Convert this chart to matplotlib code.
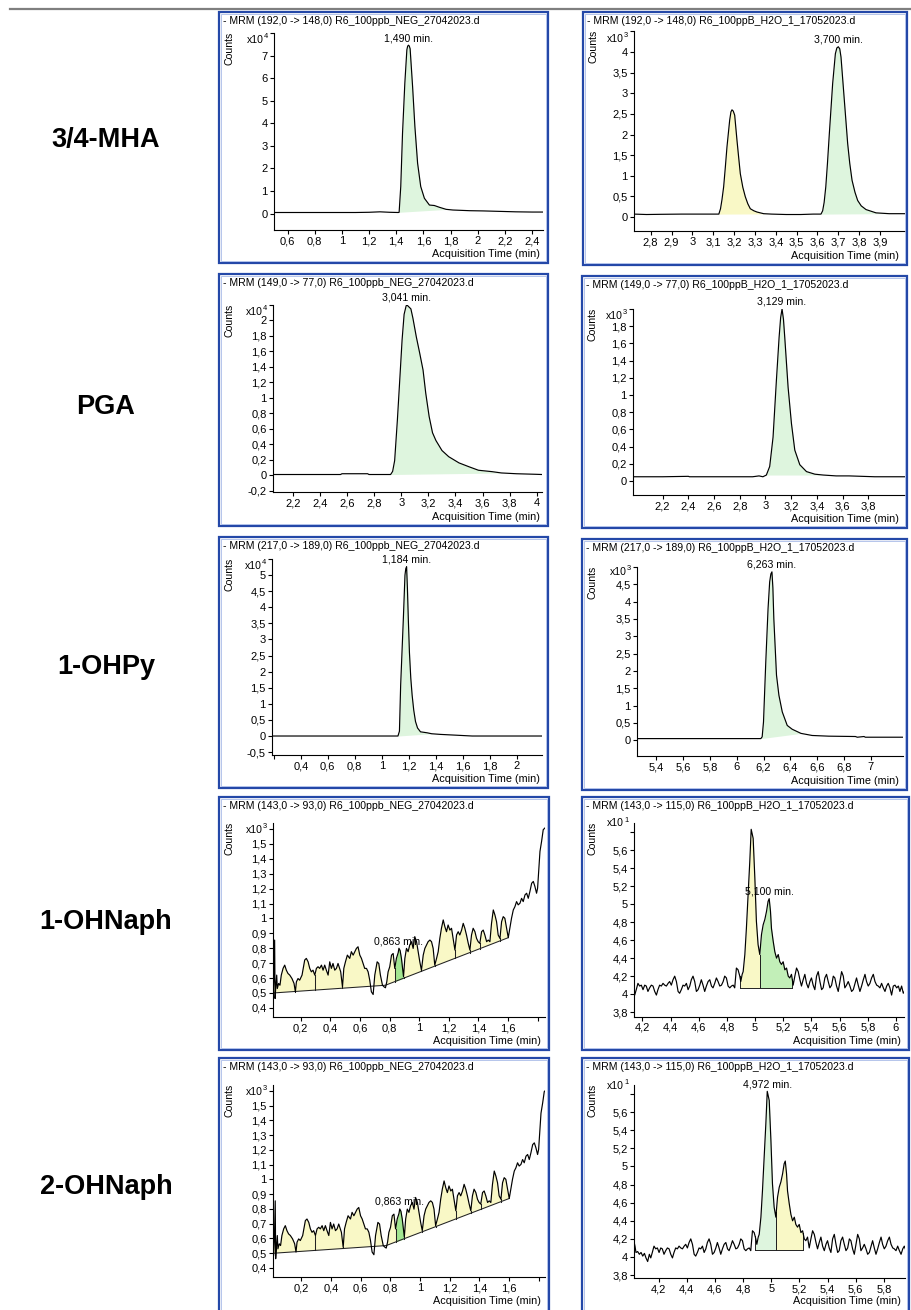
import numpy as np
import matplotlib
matplotlib.use("Agg")
import matplotlib.pyplot as plt
from matplotlib.patches import Rectangle
from matplotlib.lines import Line2D

plt.rcParams['font.family'] = ['Liberation Sans', 'DejaVu Sans']

W, H = 912, 1310

# ---------------------------------------------------------------- labels
compounds = ["3/4-MHA", "PGA", "1-OHPy", "1-OHNaph", "2-OHNaph"]

title_mha_neg = "- MRM (192,0 -> 148,0) R6_100ppb_NEG_27042023.d"
title_mha_h2o = "- MRM (192,0 -> 148,0) R6_100ppB_H2O_1_17052023.d"
title_pga_neg = "- MRM (149,0 -> 77,0) R6_100ppb_NEG_27042023.d"
title_pga_h2o = "- MRM (149,0 -> 77,0) R6_100ppB_H2O_1_17052023.d"
title_ohpy_neg = "- MRM (217,0 -> 189,0) R6_100ppb_NEG_27042023.d"
title_ohpy_h2o = "- MRM (217,0 -> 189,0) R6_100ppB_H2O_1_17052023.d"
title_naph_neg = "- MRM (143,0 -> 93,0) R6_100ppb_NEG_27042023.d"
title_naph_h2o = "- MRM (143,0 -> 115,0) R6_100ppB_H2O_1_17052023.d"

# ---------------------------------------------------------------- traces
# 3/4-MHA, NEG run (counts x10^4)
mha_neg_t = [0.50, 0.70, 0.90, 1.10, 1.20, 1.28, 1.35, 1.415, 1.421, 1.433, 1.446,
             1.463, 1.478, 1.484, 1.490, 1.496, 1.502, 1.52, 1.537, 1.557, 1.58,
             1.607, 1.644, 1.68, 1.718, 1.767, 1.817, 1.94, 2.04, 2.16, 2.28, 2.40,
             2.48]
mha_neg_c = [0.05, 0.05, 0.05, 0.05, 0.06, 0.08, 0.06, 0.05, 0.06, 1.20, 3.56,
             5.78, 7.26, 7.42, 7.46, 7.42, 7.30, 5.64, 3.86, 2.23, 1.20,
             0.68, 0.38, 0.36, 0.28, 0.19, 0.16, 0.13, 0.12, 0.10, 0.08, 0.07,
             0.07]

# 3/4-MHA, H2O run (counts x10^3)
mha_h2o_t = [2.72, 2.78, 2.85, 2.95, 3.05, 3.10, 3.127, 3.135, 3.142, 3.15, 3.158,
             3.166, 3.179, 3.185, 3.19, 3.196, 3.203, 3.214, 3.222, 3.23, 3.242,
             3.254, 3.266, 3.278, 3.295, 3.31, 3.342, 3.38, 3.45, 3.52, 3.58,
             3.617, 3.625, 3.632, 3.64, 3.648, 3.657, 3.673, 3.686, 3.693, 3.70,
             3.707, 3.713, 3.729, 3.745, 3.755, 3.766, 3.78, 3.793, 3.81, 3.833,
             3.881, 3.944, 4.03]
mha_h2o_c = [0.07, 0.06, 0.065, 0.07, 0.07, 0.07, 0.07, 0.20, 0.42, 0.73, 1.20,
             1.70, 2.35, 2.55, 2.60, 2.57, 2.47, 1.86, 1.45, 1.05, 0.72,
             0.49, 0.32, 0.20, 0.15, 0.12, 0.08, 0.07, 0.06, 0.06, 0.07,
             0.07, 0.15, 0.35, 0.73, 1.30, 2.02, 3.24, 3.96, 4.10, 4.13,
             4.08, 3.88, 2.83, 1.78, 1.30, 0.89, 0.60, 0.40, 0.27, 0.18,
             0.10, 0.08, 0.08]

# PGA, NEG run (counts x10^4)
pga_neg_t = [2.05, 2.30, 2.55, 2.56, 2.75, 2.76, 2.92, 2.935, 2.95, 2.97, 2.99,
             3.005, 3.02, 3.035, 3.041, 3.07, 3.085, 3.11, 3.135, 3.16, 3.18,
             3.205, 3.23, 3.255, 3.30, 3.35, 3.426, 3.50, 3.57, 3.67, 3.74,
             3.85, 3.99, 4.04]
pga_neg_c = [0.01, 0.01, 0.01, 0.02, 0.02, 0.01, 0.01, 0.05, 0.19, 0.71, 1.30,
             1.75, 2.08, 2.19, 2.20, 2.15, 2.03, 1.79, 1.58, 1.36, 1.06,
             0.76, 0.55, 0.45, 0.32, 0.24, 0.16, 0.11, 0.065, 0.047, 0.03,
             0.02, 0.013, 0.01]

# PGA, H2O run (counts x10^3)
pga_h2o_t = [1.97, 2.20, 2.40, 2.41, 2.60, 2.80, 2.90, 2.95, 2.98, 3.007, 3.033,
             3.059, 3.085, 3.106, 3.118, 3.129, 3.14, 3.15, 3.176, 3.202, 3.228,
             3.267, 3.319, 3.384, 3.449, 3.55, 3.65, 3.75, 3.85, 3.95, 4.085]
pga_h2o_c = [0.05, 0.05, 0.055, 0.05, 0.05, 0.05, 0.05, 0.06, 0.05, 0.07, 0.17,
             0.51, 1.17, 1.67, 1.90, 2.00, 1.88, 1.67, 1.09, 0.67, 0.36,
             0.19, 0.11, 0.08, 0.07, 0.06, 0.06, 0.055, 0.05, 0.05, 0.05]

# 1-OHPy, NEG run (counts x10^4)
ohpy_neg_t = [0.187, 0.50, 0.80, 1.00, 1.12, 1.131, 1.14, 1.16, 1.172, 1.178, 1.184,
              1.19, 1.197, 1.205, 1.215, 1.225, 1.237, 1.25, 1.265, 1.287, 1.336,
              1.37, 1.435, 1.53, 1.67, 1.80, 2.187]
ohpy_neg_c = [0.0, 0.0, 0.0, 0.0, 0.0, 0.15, 1.58, 3.65, 5.00, 5.20, 5.26,
              4.60, 3.60, 2.60, 1.80, 1.27, 0.80, 0.45, 0.25, 0.13, 0.10,
              0.07, 0.05, 0.03, 0.0, 0.0, 0.0]

# 1-OHPy, H2O run (counts x10^3)
ohpy_h2o_t = [5.256, 5.60, 5.90, 6.10, 6.18, 6.19, 6.20, 6.217, 6.234, 6.246, 6.255,
              6.263, 6.27, 6.277, 6.297, 6.315, 6.34, 6.377, 6.414, 6.48, 6.563,
              6.687, 6.886, 6.90, 6.95, 6.96, 7.241]
ohpy_h2o_c = [0.05, 0.05, 0.05, 0.05, 0.05, 0.10, 0.53, 2.26, 3.80, 4.57, 4.80,
              4.86, 4.40, 3.51, 1.88, 1.30, 0.82, 0.43, 0.32, 0.20, 0.14,
              0.12, 0.11, 0.09, 0.11, 0.09, 0.09]

# 1-/2-OHNaph, NEG run (counts x10^3)
naph_neg_t = [0.009, 0.013, 0.018, 0.024, 0.027, 0.031, 0.038, 0.042, 0.051, 0.060,
              0.069, 0.081, 0.092, 0.103, 0.114, 0.126, 0.141, 0.155, 0.164, 0.171,
              0.182, 0.193, 0.209, 0.227, 0.238, 0.250, 0.261, 0.272, 0.283, 0.295,
              0.306, 0.317, 0.328, 0.340, 0.351, 0.362, 0.373, 0.385, 0.396, 0.407,
              0.418, 0.430, 0.441, 0.452, 0.470, 0.482, 0.491, 0.502, 0.515, 0.531,
              0.542, 0.554, 0.565, 0.576, 0.587, 0.599, 0.610, 0.621, 0.632, 0.644,
              0.655, 0.666, 0.677, 0.689, 0.700, 0.716, 0.727, 0.738, 0.752, 0.763,
              0.772, 0.781, 0.790, 0.801, 0.813, 0.824, 0.835, 0.846, 0.858, 0.863,
              0.871, 0.880, 0.894, 0.903, 0.914, 0.925, 0.936, 0.948, 0.959, 0.970,
              0.982, 0.993, 1.004, 1.015, 1.027, 1.038, 1.049, 1.060, 1.072, 1.083,
              1.094, 1.105, 1.117, 1.128, 1.139, 1.150, 1.162, 1.173, 1.184, 1.195,
              1.207, 1.218, 1.229, 1.241, 1.252, 1.263, 1.274, 1.286, 1.297, 1.308,
              1.319, 1.331, 1.342, 1.353, 1.364, 1.376, 1.387, 1.398, 1.409, 1.421,
              1.432, 1.443, 1.455, 1.466, 1.477, 1.488, 1.500, 1.511, 1.522, 1.533,
              1.545, 1.556, 1.567, 1.578, 1.590, 1.601, 1.612, 1.623, 1.635, 1.646,
              1.657, 1.668, 1.680, 1.691, 1.702, 1.714, 1.725, 1.736, 1.747, 1.759,
              1.770, 1.781, 1.792, 1.799, 1.808, 1.815, 1.826, 1.837, 1.848]
naph_neg_c = [0.470, 0.485, 0.575, 0.855, 0.463, 0.530, 0.620, 0.530, 0.564, 0.552,
              0.620, 0.665, 0.687, 0.653, 0.631, 0.620, 0.597, 0.564, 0.508, 0.575,
              0.597, 0.586, 0.620, 0.721, 0.732, 0.709, 0.665, 0.642, 0.653, 0.620,
              0.665, 0.676, 0.665, 0.687, 0.653, 0.687, 0.653, 0.620, 0.709, 0.665,
              0.698, 0.653, 0.665, 0.698, 0.642, 0.541, 0.665, 0.709, 0.754, 0.732,
              0.777, 0.754, 0.777, 0.799, 0.810, 0.754, 0.732, 0.698, 0.665, 0.665,
              0.642, 0.586, 0.508, 0.490, 0.620, 0.709, 0.698, 0.620, 0.552, 0.541,
              0.535, 0.575, 0.642, 0.676, 0.754, 0.765, 0.665, 0.732, 0.770, 0.800,
              0.785, 0.732, 0.610, 0.732, 0.799, 0.777, 0.822, 0.844, 0.799, 0.878,
              0.844, 0.777, 0.709, 0.653, 0.754, 0.799, 0.822, 0.844, 0.855, 0.844,
              0.799, 0.687, 0.732, 0.777, 0.866, 0.934, 0.990, 0.945, 0.911, 0.956,
              0.922, 0.934, 0.866, 0.788, 0.889, 0.911, 0.889, 0.922, 0.967, 0.934,
              0.889, 0.833, 0.788, 0.889, 0.934, 0.911, 0.866, 0.844, 0.833, 0.911,
              0.922, 0.889, 0.844, 0.855, 0.844, 0.967, 1.057, 1.023, 0.978, 0.889,
              0.866, 0.978, 1.012, 1.001, 0.934, 0.871, 0.934, 1.001, 1.057, 1.079,
              1.113, 1.091, 1.102, 1.135, 1.113, 1.158, 1.169, 1.135, 1.180, 1.236,
              1.248, 1.214, 1.169, 1.203, 1.348, 1.449, 1.517, 1.595, 1.606]
# integration baseline and slice boundaries for the NEG 143 -> 93 trace
naph_neg_base_t = [0.013, 0.772, 1.601]
naph_neg_base_c = [0.500, 0.552, 0.871]
naph_neg_cuts = [0.164, 0.295, 0.482, 0.835, 0.894, 1.015, 1.105, 1.241, 1.342,
                 1.409, 1.545]

# 1-/2-OHNaph, H2O run (counts x10^1)
naph_h2o_t = [4.026, 4.033, 4.040, 4.052, 4.064, 4.076, 4.088, 4.100, 4.111, 4.123,
              4.135, 4.145, 4.156, 4.168, 4.180, 4.192, 4.204, 4.216, 4.227, 4.239,
              4.251, 4.263, 4.275, 4.287, 4.299, 4.310, 4.322, 4.334, 4.346, 4.358,
              4.370, 4.382, 4.393, 4.405, 4.417, 4.429, 4.441, 4.453, 4.464, 4.476,
              4.488, 4.500, 4.512, 4.524, 4.536, 4.547, 4.559, 4.571, 4.583, 4.595,
              4.607, 4.618, 4.630, 4.642, 4.654, 4.666, 4.678, 4.690, 4.701, 4.713,
              4.725, 4.737, 4.749, 4.761, 4.773, 4.784, 4.796, 4.808, 4.820, 4.832,
              4.844, 4.855, 4.867, 4.879, 4.891, 4.898, 4.908, 4.915, 4.927, 4.938,
              4.950, 4.962, 4.972, 4.986, 4.998, 5.009, 5.021, 5.033, 5.045, 5.057,
              5.069, 5.081, 5.092, 5.100, 5.109, 5.116, 5.128, 5.140, 5.152, 5.164,
              5.175, 5.187, 5.199, 5.211, 5.223, 5.235, 5.246, 5.258, 5.270, 5.282,
              5.294, 5.306, 5.318, 5.329, 5.341, 5.353, 5.365, 5.377, 5.389, 5.400,
              5.412, 5.424, 5.436, 5.448, 5.460, 5.472, 5.483, 5.495, 5.507, 5.519,
              5.531, 5.543, 5.555, 5.566, 5.578, 5.590, 5.602, 5.614, 5.626, 5.637,
              5.649, 5.661, 5.673, 5.685, 5.697, 5.709, 5.720, 5.732, 5.744, 5.756,
              5.768, 5.780, 5.791, 5.803, 5.815, 5.827, 5.839, 5.851, 5.863, 5.874,
              5.886, 5.898, 5.910, 5.922, 5.934, 5.945, 5.957, 5.969, 5.981, 5.993,
              6.005, 6.017, 6.028, 6.040, 6.052, 6.060]
naph_h2o_c = [4.17, 4.12, 4.05, 4.06, 4.03, 4.05, 4.01, 4.04, 3.99, 3.95,
              4.03, 3.99, 4.05, 4.12, 4.09, 4.10, 4.05, 4.10, 4.09, 4.03,
              4.07, 4.10, 4.09, 4.03, 3.99, 4.05, 4.10, 4.09, 4.12, 4.10,
              4.09, 4.12, 4.14, 4.10, 4.16, 4.20, 4.14, 4.03, 4.01, 4.05,
              4.10, 4.09, 4.12, 4.05, 4.09, 4.16, 4.20, 4.14, 4.03, 4.05,
              4.10, 4.16, 4.10, 4.03, 4.09, 4.14, 4.16, 4.09, 4.07, 4.12,
              4.18, 4.14, 4.09, 4.10, 4.14, 4.20, 4.18, 4.09, 4.07, 4.09,
              4.10, 4.07, 4.29, 4.27, 4.20, 4.14, 4.22, 4.25, 4.44, 4.73,
              5.10, 5.47, 5.83, 5.73, 5.29, 4.81, 4.55, 4.44, 4.66, 4.77,
              4.83, 4.92, 5.03, 5.06, 4.92, 4.73, 4.59, 4.47, 4.40, 4.44,
              4.36, 4.33, 4.36, 4.27, 4.29, 4.20, 4.18, 4.22, 4.10, 4.20,
              4.29, 4.25, 4.16, 4.09, 4.16, 4.22, 4.12, 4.07, 4.14, 4.18,
              4.10, 4.05, 4.20, 4.25, 4.14, 4.05, 4.07, 4.18, 4.22, 4.14,
              4.07, 4.10, 4.20, 4.18, 4.09, 4.03, 4.14, 4.25, 4.20, 4.07,
              4.10, 4.14, 4.09, 4.03, 4.05, 4.12, 4.18, 4.10, 4.03, 4.09,
              4.16, 4.22, 4.14, 4.09, 4.12, 4.18, 4.22, 4.14, 4.10, 4.09,
              4.07, 4.12, 4.07, 4.03, 4.09, 4.12, 4.07, 3.99, 4.09, 4.10,
              4.07, 4.09, 4.03, 4.09, 4.01, 4.03]

# ---------------------------------------------------------------- ticks
mha_neg_xticks = [0.6, 0.8, 1.0, 1.2, 1.4, 1.6, 1.8, 2.0, 2.2, 2.4]
mha_neg_yticks = [0, 1, 2, 3, 4, 5, 6, 7, 8]
mha_h2o_xticks = [2.8, 2.9, 3.0, 3.1, 3.2, 3.3, 3.4, 3.5, 3.6, 3.7, 3.8, 3.9]
mha_h2o_yticks = [0, 0.5, 1, 1.5, 2, 2.5, 3, 3.5, 4, 4.5]
pga_neg_xticks = [2.2, 2.4, 2.6, 2.8, 3.0, 3.2, 3.4, 3.6, 3.8, 4.0]
pga_neg_yticks = [-0.2, 0, 0.2, 0.4, 0.6, 0.8, 1, 1.2, 1.4, 1.6, 1.8, 2, 2.2]
pga_h2o_xticks = [2.2, 2.4, 2.6, 2.8, 3.0, 3.2, 3.4, 3.6, 3.8]
pga_h2o_yticks = [0, 0.2, 0.4, 0.6, 0.8, 1, 1.2, 1.4, 1.6, 1.8, 2]
ohpy_neg_xticks = [0.2, 0.4, 0.6, 0.8, 1.0, 1.2, 1.4, 1.6, 1.8, 2.0]
ohpy_neg_yticks = [-0.5, 0, 0.5, 1, 1.5, 2, 2.5, 3, 3.5, 4, 4.5, 5, 5.5]
ohpy_h2o_xticks = [5.4, 5.6, 5.8, 6.0, 6.2, 6.4, 6.6, 6.8, 7.0]
ohpy_h2o_yticks = [0, 0.5, 1, 1.5, 2, 2.5, 3, 3.5, 4, 4.5, 5]
naph_neg_xticks = [0.2, 0.4, 0.6, 0.8, 1.0, 1.2, 1.4, 1.6, 1.8]
naph_neg_yticks = [0.4, 0.5, 0.6, 0.7, 0.8, 0.9, 1.0, 1.1, 1.2, 1.3, 1.4, 1.5, 1.6]
naph_h2o_xticks_a = [4.2, 4.4, 4.6, 4.8, 5.0, 5.2, 5.4, 5.6, 5.8, 6.0]
naph_h2o_xticks_b = [4.2, 4.4, 4.6, 4.8, 5.0, 5.2, 5.4, 5.6, 5.8]
naph_h2o_yticks = [3.8, 4.0, 4.2, 4.4, 4.6, 4.8, 5.0, 5.2, 5.4, 5.6, 5.8]

# retention times printed over the integrated peaks
rt_mha_neg, rt_mha_h2o = 1.490, 3.700
rt_pga_neg, rt_pga_h2o = 3.041, 3.129
rt_ohpy_neg, rt_ohpy_h2o = 1.184, 6.263
rt_naph_neg, rt_1naph_h2o, rt_2naph_h2o = 0.863, 5.100, 4.972

YELLOW = '#f9f8c6'
GREEN = '#def5de'
GREEN_SAT = '#a2e590'
GREEN_MID = '#c2efb8'
FS = 7.6
FS_TICK = 8.0

fig = plt.figure(figsize=(W / 100, H / 100), dpi=100)


def fx(x):
    return x / W


def fy(y):
    return 1 - y / H


def fmt(v):
    s = ("%.3f" % v).rstrip('0').rstrip('.')
    if s in ("-0", ""):
        s = "0"
    return s.replace('.', ',')


def draw_frame(box):
    l, t, r, b = box
    fig.add_artist(Rectangle((fx(l), fy(b)), (r - l) / W, (b - t) / H,
                             transform=fig.transFigure, fill=False,
                             ec='#2448a8', lw=1.6, zorder=5))
    fig.add_artist(Rectangle((fx(l + 2), fy(b - 2)), (r - l - 4) / W, (b - t - 4) / H,
                             transform=fig.transFigure, fill=False,
                             ec='#a9bbe8', lw=0.6, zorder=5))


def fill_peak(ax, t, c, t0, t1, color, b0=None, b1=None, edges=False):
    t = np.asarray(t)
    c = np.asarray(c)
    inner = (t > t0) & (t < t1)
    tt = np.concatenate([[t0], t[inner], [t1]])
    cc = np.interp(tt, t, c)
    if b0 is None:
        b0 = cc[0]
    if b1 is None:
        b1 = cc[-1]
    base = np.interp(tt, [t0, t1], [b0, b1])
    ax.fill_between(tt, base, cc, where=cc >= base, interpolate=True,
                    color=color, lw=0, zorder=1)
    if edges:
        ax.plot([t0, t1], [b0, b1], color='#222222', lw=0.7, zorder=2)
        for tb, bb, cb in ((t0, b0, cc[0]), (t1, b1, cc[-1])):
            ax.plot([tb, tb], [bb, cb], color='#222222', lw=0.7, zorder=2)


def panel(frame, axbox, title, t, c, xlim, ylim, xticks, yticks, exp,
          rt, hidden_x=(), exp_y=None):
    draw_frame(frame)
    fl, ft, fr, fb = frame
    l, tp, r, b = axbox
    ax = fig.add_axes([fx(l), fy(b), (r - l) / W, (b - tp) / H])
    ax.set_facecolor('none')
    ax.plot(t, c, color='black', lw=0.85, zorder=3)
    ax.set_xlim(*xlim)
    ax.set_ylim(*ylim)
    for s in ('top', 'right'):
        ax.spines[s].set_visible(False)
    for s in ('left', 'bottom'):
        ax.spines[s].set_linewidth(0.8)
    ax.set_xticks(xticks)
    ax.set_xticklabels(['' if v in hidden_x else fmt(v) for v in xticks])
    ax.set_yticks(yticks)
    ax.set_yticklabels([fmt(v) for v in yticks[:-1]] + [''])
    ax.tick_params(direction='out', length=3, width=0.8, labelsize=FS_TICK,
                   pad=1.5, colors='black')
    if exp_y is None:
        exp_y = tp + 7
    fig.text(fx(fl + 4), fy(ft + 9), title, ha='left', va='center', fontsize=FS)
    fig.text(fx(fl + 11), fy(tp + 15), 'Counts', rotation=90, ha='center',
             va='center', fontsize=FS)
    fig.text(fx(l - 10.5), fy(exp_y), 'x10', ha='right', va='center', fontsize=FS)
    fig.text(fx(l - 10), fy(exp_y - 3), str(exp), ha='left', va='center',
             fontsize=5.4)
    fig.text(fx(fr - 8), fy(min(fb, H) - 9), 'Acquisition Time (min)', ha='right',
             va='center', fontsize=7.8)
    ax.annotate(("%.3f" % rt).replace('.', ',') + ' min.',
                xy=(rt, np.interp(rt, t, c)), xytext=(0, 1.5),
                textcoords='offset points', ha='center', va='bottom',
                fontsize=FS, zorder=4)
    return ax


# ---------------------------------------------------------------- page
fig.add_artist(Line2D([fx(10), fx(912)], [fy(9), fy(9)], color='#7f7f7f', lw=1.6))
for name, yc in zip(compounds, [140, 407, 667, 922, 1187]):
    fig.text(fx(106), fy(yc), name, ha='center', va='center', fontsize=19.5,
             fontweight='bold')

# row 1: 3/4-MHA
ax = panel((219, 12, 548, 263), (274, 33, 543, 230), title_mha_neg,
           mha_neg_t, mha_neg_c, (0.5, 2.48), (-0.725, 8.0),
           mha_neg_xticks, mha_neg_yticks, 4, rt_mha_neg)
fill_peak(ax, mha_neg_t, mha_neg_c, 1.421, 1.77, GREEN)

ax = panel((583, 12, 907, 265), (634, 31.5, 905, 231), title_mha_h2o,
           mha_h2o_t, mha_h2o_c, (2.72, 4.02), (-0.34, 4.5),
           mha_h2o_xticks, mha_h2o_yticks, 3, rt_mha_h2o)
fill_peak(ax, mha_h2o_t, mha_h2o_c, 3.127, 3.36, YELLOW)
fill_peak(ax, mha_h2o_t, mha_h2o_c, 3.617, 3.94, GREEN)

# row 2: PGA
ax = panel((219, 274, 548, 526), (273, 305, 542, 492), title_pga_neg,
           pga_neg_t, pga_neg_c, (2.05, 4.04), (-0.216, 2.2),
           pga_neg_xticks, pga_neg_yticks, 4, rt_pga_neg)
fill_peak(ax, pga_neg_t, pga_neg_c, 2.92, 3.745, GREEN)

ax = panel((582, 276, 907, 528), (633, 309, 905, 495), title_pga_h2o,
           pga_h2o_t, pga_h2o_c, (1.97, 4.085), (-0.162, 2.0),
           pga_h2o_xticks, pga_h2o_yticks, 3, rt_pga_h2o)
fill_peak(ax, pga_h2o_t, pga_h2o_c, 3.007, 3.449, GREEN)

# row 3: 1-OHPy
ax = panel((219, 537, 548, 788), (272, 559, 542, 755), title_ohpy_neg,
           ohpy_neg_t, ohpy_neg_c, (0.187, 2.187), (-0.59, 5.5),
           ohpy_neg_xticks, ohpy_neg_yticks, 4, rt_ohpy_neg, hidden_x=(0.2,))
fill_peak(ax, ohpy_neg_t, ohpy_neg_c, 1.12, 1.37, GREEN)

ax = panel((582, 539, 907, 790), (637, 567, 903, 756), title_ohpy_h2o,
           ohpy_h2o_t, ohpy_h2o_c, (5.256, 7.241), (-0.452, 5.0),
           ohpy_h2o_xticks, ohpy_h2o_yticks, 3, rt_ohpy_h2o, exp_y=572)
fill_peak(ax, ohpy_h2o_t, ohpy_h2o_c, 6.18, 6.48, GREEN)


# rows 4 and 5: 1-OHNaph / 2-OHNaph
def naph_neg_panel(frame, axbox, xlim):
    ax = panel(frame, axbox, title_naph_neg, naph_neg_t, naph_neg_c, xlim,
               (0.339, 1.64), naph_neg_xticks, naph_neg_yticks, 3, rt_naph_neg,
               hidden_x=(1.8,))
    t = np.asarray(naph_neg_t)
    c = np.asarray(naph_neg_c)
    t0, t1 = naph_neg_base_t[0], naph_neg_base_t[-1]
    inner = (t > t0) & (t < t1)
    tt = np.concatenate([[t0], t[inner], [t1]])
    cc = np.interp(tt, t, c)
    base = np.interp(tt, naph_neg_base_t, naph_neg_base_c)
    ax.fill_between(tt, base, cc, where=cc >= base, interpolate=True,
                    color=YELLOW, lw=0, zorder=1)
    g = (tt >= 0.835) & (tt <= 0.894)
    gt = np.concatenate([[0.835], tt[g], [0.894]])
    gc = np.interp(gt, t, c)
    gb = np.interp(gt, naph_neg_base_t, naph_neg_base_c)
    ax.fill_between(gt, gb, gc, where=gc >= gb, interpolate=True,
                    color=GREEN_SAT, lw=0, zorder=1)
    ax.plot(naph_neg_base_t, naph_neg_base_c, color='#222222', lw=0.75, zorder=2)
    for tc in naph_neg_cuts:
        ax.plot([tc, tc], [np.interp(tc, naph_neg_base_t, naph_neg_base_c),
                           np.interp(tc, t, c)], color='#222222', lw=0.75, zorder=2)
    return ax


naph_neg_panel((219, 797, 549, 1050), (273, 823, 545, 1017), (0.013, 1.849))
naph_neg_panel((219, 1058, 549, 1322), (273, 1085, 545, 1277), (0.009, 1.842))

ax = panel((582, 797, 909, 1050), (634, 823, 904, 1016.5), title_naph_h2o,
           naph_h2o_t, naph_h2o_c, (4.14, 6.057), (3.752, 5.9),
           naph_h2o_xticks_a, naph_h2o_yticks, 1, rt_1naph_h2o, exp_y=823)
fill_peak(ax, naph_h2o_t, naph_h2o_c, 4.891, 5.033, YELLOW, 4.067, 4.067, edges=True)
fill_peak(ax, naph_h2o_t, naph_h2o_c, 5.033, 5.263, GREEN_MID, 4.067, 4.067, edges=True)

ax = panel((582, 1058, 909, 1322), (634, 1085, 905, 1278), title_naph_h2o,
           naph_h2o_t, naph_h2o_c, (4.026, 5.95), (3.768, 5.9),
           naph_h2o_xticks_b, naph_h2o_yticks, 1, rt_2naph_h2o, exp_y=1086)
fill_peak(ax, naph_h2o_t, naph_h2o_c, 4.886, 5.036, GREEN, 4.074, 4.074, edges=True)
fill_peak(ax, naph_h2o_t, naph_h2o_c, 5.036, 5.227, YELLOW, 4.074, 4.074, edges=True)

fig.savefig("out.png", dpi=100)
